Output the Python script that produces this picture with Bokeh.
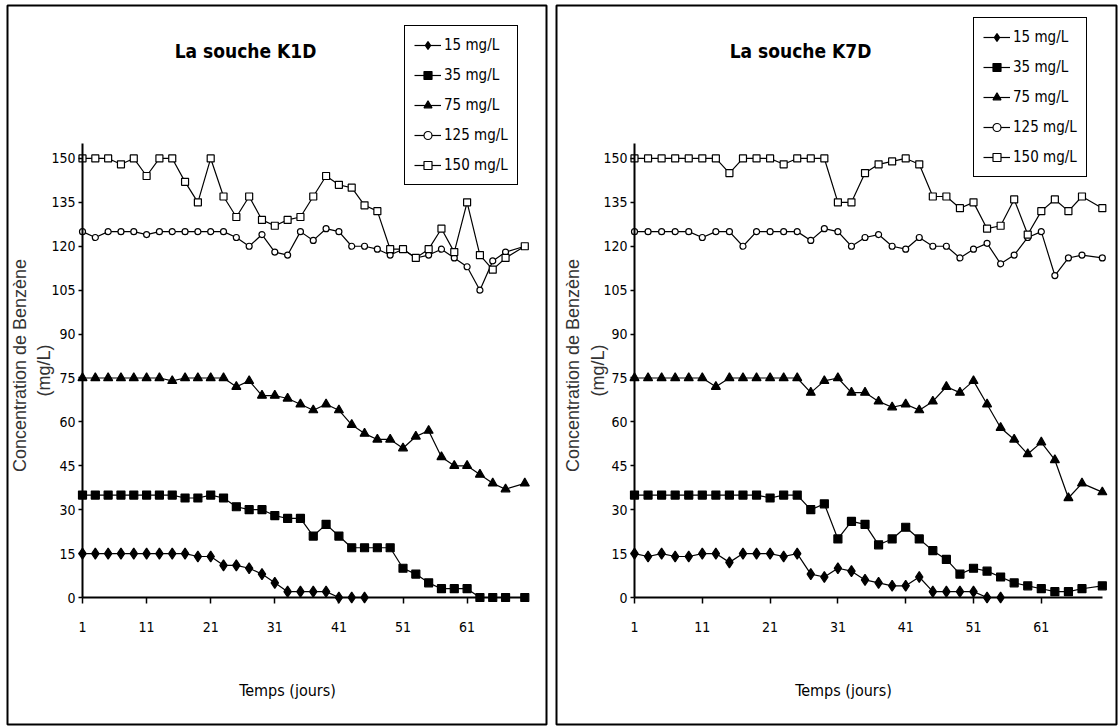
import math
from bokeh.plotting import figure
from bokeh.layouts import row
from bokeh.models import (Label, Legend, LegendItem, FixedTicker, Range1d,
                          BoxAnnotation)
from bokeh.embed import file_html
from bokeh.resources import INLINE

# ---------------- data ----------------
days = [1, 3, 5, 7, 9, 11, 13, 15, 17, 19, 21, 23, 25, 27, 29, 31, 33, 35,
        37, 39, 41, 43, 45, 47, 49, 51, 53, 55, 57, 59, 61, 63, 65, 67, 70]

x_ticks = [1, 11, 21, 31, 41, 51, 61]
y_ticks = [0, 15, 30, 45, 60, 75, 90, 105, 120, 135, 150]

labels = ["15 mg/L", "35 mg/L", "75 mg/L", "125 mg/L", "150 mg/L"]

# La souche K1D
k1d_15 = [15, 15, 15, 15, 15, 15, 15, 15, 15, 14, 14, 11, 11, 10, 8, 5, 2, 2,
          2, 2, 0, 0, 0]
k1d_35 = [35, 35, 35, 35, 35, 35, 35, 35, 34, 34, 35, 34, 31, 30, 30, 28, 27, 27,
          21, 25, 21, 17, 17, 17, 17, 10, 8, 5, 3, 3, 3, 0, 0, 0, 0]
k1d_75 = [75, 75, 75, 75, 75, 75, 75, 74, 75, 75, 75, 75, 72, 74, 69, 69, 68, 66,
          64, 66, 64, 59, 56, 54, 54, 51, 55, 57, 48, 45, 45, 42, 39, 37, 39]
k1d_125 = [125, 123, 125, 125, 125, 124, 125, 125, 125, 125, 125, 125, 123, 120, 124,
           118, 117, 125, 122, 126, 125, 120, 120, 119, 117, 119, 116, 117, 119, 116,
           113, 105, 115, 118, 120]
k1d_150 = [150, 150, 150, 148, 150, 144, 150, 150, 142, 135, 150, 137, 130, 137, 129,
           127, 129, 130, 137, 144, 141, 140, 134, 132, 119, 119, 116, 119, 126, 118,
           135, 117, 112, 116, 120]

# La souche K7D
k7d_15 = [15, 14, 15, 14, 14, 15, 15, 12, 15, 15, 15, 14, 15, 8, 7, 10, 9, 6,
          5, 4, 4, 7, 2, 2, 2, 2, 0, 0]
k7d_35 = [35, 35, 35, 35, 35, 35, 35, 35, 35, 35, 34, 35, 35, 30, 32, 20, 26, 25,
          18, 20, 24, 20, 16, 13, 8, 10, 9, 7, 5, 4, 3, 2, 2, 3, 4]
k7d_75 = [75, 75, 75, 75, 75, 75, 72, 75, 75, 75, 75, 75, 75, 70, 74, 75, 70, 70,
          67, 65, 66, 64, 67, 72, 70, 74, 66, 58, 54, 49, 53, 47, 34, 39, 36]
k7d_125 = [125, 125, 125, 125, 125, 123, 125, 125, 120, 125, 125, 125, 125, 122, 126,
           125, 120, 123, 124, 120, 119, 123, 120, 120, 116, 119, 121, 114, 117, 123,
           125, 110, 116, 117, 116]
k7d_150 = [150, 150, 150, 150, 150, 150, 150, 145, 150, 150, 150, 148, 150, 150, 150,
           135, 135, 145, 148, 149, 150, 148, 137, 137, 133, 135, 126, 127, 136, 124,
           132, 136, 132, 137, 133]

NARROW = "'Liberation Sans Narrow', 'DejaVu Sans Condensed', sans-serif"
REGULAR = "'Liberation Sans', Arial, sans-serif"

styles = [
    dict(marker="diamond", size=11, fill="black"),
    dict(marker="square", size=8, fill="black"),
    dict(marker="triangle", size=9, fill="black"),
    dict(marker="circle", size=6, fill="white"),
    dict(marker="square", size=7, fill="white"),
]

H = 728
AXIS_X = 82        # canvas px of the y axis (day 1)
AXIS_Y = 597       # canvas px of value 0
SY = 2.927         # px per mg/L


def panel(title, series, width, sx, x_end, border, title_c, ylab_x, xlab_c,
          legend_loc):
    def dx(px):
        return 1 + (px - AXIS_X) / sx

    def dy(py):
        return (AXIS_Y - py) / SY

    p = figure(width=width, height=H, output_backend="svg", toolbar_location=None,
               title=None,
               x_range=Range1d(dx(0), dx(width)), y_range=Range1d(dy(H), dy(0)),
               min_border_left=0, min_border_right=0,
               min_border_top=0, min_border_bottom=0)
    p.outline_line_color = None
    p.grid.visible = False
    p.background_fill_color = "white"
    p.border_fill_color = "white"

    items = []
    for lab, ys, st in zip(labels, series, styles):
        xs = days[:len(ys)]
        lr = p.line(xs, ys, line_color="black", line_width=1.2)
        sr = p.scatter(xs, ys, marker=st["marker"], size=st["size"],
                       fill_color=st["fill"], line_color="black", line_width=1.2)
        items.append(LegendItem(label=lab, renderers=[lr, sr]))

    leg = Legend(items=items, location=legend_loc, orientation="vertical",
                 border_line_color="black", border_line_width=1.5,
                 border_line_alpha=1,
                 background_fill_color="white", background_fill_alpha=1,
                 label_text_font=NARROW, label_text_font_size="15px",
                 label_text_color="black",
                 glyph_width=27, glyph_height=20, label_height=20,
                 label_standoff=3, spacing=10, padding=9, margin=0)
    p.add_layout(leg, "center")

    xa = p.xaxis[0]
    xa.fixed_location = 0
    xa.ticker = FixedTicker(ticks=x_ticks)
    xa.bounds = (1, x_end)
    xa.axis_line_width = 2
    xa.major_tick_line_width = 1.5
    xa.major_tick_out = 6
    xa.major_tick_in = 0
    xa.minor_tick_out = 0
    xa.minor_tick_in = 0
    xa.major_label_standoff = 18
    xa.major_label_text_font = NARROW
    xa.major_label_text_font_size = "14px"
    xa.major_label_text_color = "black"

    ya = p.yaxis[0]
    ya.fixed_location = 1
    ya.ticker = FixedTicker(ticks=y_ticks)
    ya.bounds = (0, 155)
    ya.axis_line_width = 2
    ya.major_tick_line_width = 1.5
    ya.major_tick_out = 4
    ya.major_tick_in = 0
    ya.minor_tick_out = 0
    ya.minor_tick_in = 0
    ya.major_label_standoff = 3
    ya.major_label_text_font = NARROW
    ya.major_label_text_font_size = "14px"
    ya.major_label_text_color = "black"

    # titles and axis labels
    p.add_layout(Label(x=dx(title_c[0]), y=dy(title_c[1]), text=title,
                       text_align="center", text_baseline="middle",
                       text_font=NARROW, text_font_size="19px",
                       text_font_style="bold", text_color="black"))
    p.add_layout(Label(x=dx(xlab_c[0]), y=dy(xlab_c[1]), text="Temps (jours)",
                       text_align="center", text_baseline="middle",
                       text_font=NARROW, text_font_size="16px", text_color="black"))
    p.add_layout(Label(x=dx(ylab_x[0]), y=dy(365), text="Concentration de Benzène",
                       angle=math.pi / 2, text_align="center", text_baseline="middle",
                       text_font=REGULAR, text_font_size="18px", text_color="#333333"))
    p.add_layout(Label(x=dx(ylab_x[1]), y=dy(370), text="(mg/L)",
                       angle=math.pi / 2, text_align="center", text_baseline="middle",
                       text_font=REGULAR, text_font_size="18px", text_color="#333333"))

    l, r, t, b = border
    p.add_layout(BoxAnnotation(left=dx(l), right=dx(r), top=dy(t), bottom=dy(b),
                               fill_color=None, fill_alpha=0,
                               line_color="black", line_alpha=1, line_width=2))
    return p


p1 = panel("La souche K1D", [k1d_15, k1d_35, k1d_75, k1d_125, k1d_150],
           width=552, sx=6.41, x_end=70.5, border=(7, 546, 5, 724),
           title_c=(245, 50), ylab_x=(19, 43), xlab_c=(287, 690),
           legend_loc=(404, H - 185))
p2 = panel("La souche K7D", [k7d_15, k7d_35, k7d_75, k7d_125, k7d_150],
           width=568, sx=6.78, x_end=70, border=(4, 564, 5, 724),
           title_c=(248, 50), ylab_x=(20, 45), xlab_c=(291, 690),
           legend_loc=(421, H - 177))

layout = row(p1, p2, spacing=0)
open("out.html", "w").write(file_html(layout, INLINE))
